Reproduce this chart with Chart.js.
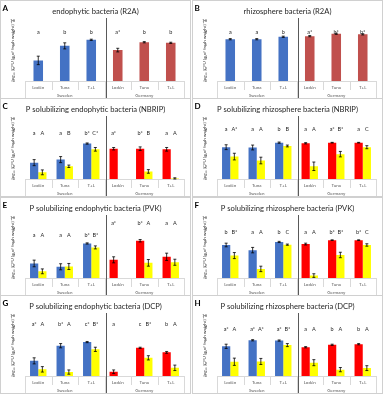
<!DOCTYPE html>
<html>
<head>
<meta charset="utf-8">
<script src="https://cdn.jsdelivr.net/npm/chart.js@4.4.1/dist/chart.umd.min.js"></script>
<style>
  body { margin: 0; width: 383px; height: 400px; background: #fff; position: relative; overflow: hidden; }
  canvas { position: absolute; }
</style>
</head>
<body>
<canvas id="cA" width="191" height="99" style="left:0;top:0"></canvas>
<canvas id="cB" width="191" height="99" style="left:192px;top:0"></canvas>
<canvas id="cC" width="191" height="99" style="left:0;top:98px"></canvas>
<canvas id="cD" width="191" height="99" style="left:192px;top:98px"></canvas>
<canvas id="cE" width="191" height="99" style="left:0;top:197px"></canvas>
<canvas id="cF" width="191" height="99" style="left:192px;top:197px"></canvas>
<canvas id="cG" width="191" height="99" style="left:0;top:295px"></canvas>
<canvas id="cH" width="191" height="99" style="left:192px;top:295px"></canvas>
<script>
const categories = ['Lodén', 'Tuna', 'T+L', 'Lodén', 'Tuna', 'T+L'];
const groups = ['Sweden', 'Germany'];

// A - endophytic bacteria (R2A)
const aMain = [3.4, 5.8, 6.8, 5.1, 6.4, 6.3];
const aMainErr = [0.7, 0.5, 0.1, 0.3, 0.1, 0.1];
const aMainLetters = ['a', 'b', 'b', 'a*', 'b', 'b'];

// B - rhizosphere bacteria (R2A)
const bMain = [6.9, 6.9, 7.3, 7.4, 7.8, 7.7];
const bMainErr = [0.1, 0.1, 0.1, 0.1, 0.1, 0.1];
const bMainLetters = ['a', 'a', 'b', 'a*', 'b*', 'b*'];

// C - P solubilizing endophytic bacteria (NBRIP)
const cMain = [2.7, 3.2, 5.85, 5.0, 5.0, 4.9];
const cMainErr = [0.5, 0.5, 0.1, 0.2, 0.3, 0.3];
const cYellow = [1.1, 2.1, 4.9, null, 1.25, 0.1];
const cYellowErr = [0.4, 0.2, 0.3, null, 0.3, 0.1];
const cMainLetters = ['a', 'a', 'b*', 'a*', 'b*', 'a'];
const cYellowLetters = ['A', 'B', 'C*', '', 'B', 'A'];

// D - P solubilizing rhizosphere bacteria (NBRIP)
const dMain = [5.25, 5.2, 6.0, 5.9, 6.0, 6.0];
const dMainErr = [0.4, 0.4, 0.1, 0.1, 0.05, 0.05];
const dYellow = [3.7, 3.05, 5.45, 2.1, 4.1, 5.25];
const dYellowErr = [0.55, 0.55, 0.15, 0.7, 0.45, 0.25];
const dMainLetters = ['a', 'a', 'b', 'a', 'a*', 'a'];
const dYellowLetters = ['A*', 'A', 'B', 'A', 'B*', 'C'];

// E - P solubilizing endophytic bacteria (PVK)
const eMain = [2.4, 1.85, 5.7, 3.0, 6.15, 3.5];
const eMainErr = [0.55, 0.5, 0.1, 0.5, 0.2, 0.6];
const eYellow = [1.1, 1.9, 5.05, null, 2.5, 2.6];
const eYellowErr = [0.4, 0.5, 0.25, null, 0.55, 0.5];
const eMainLetters = ['a', 'a', 'b*', 'a*', 'b*', 'a'];
const eYellowLetters = ['A', 'A', 'B*', '', 'A', 'A'];

// F - P solubilizing rhizosphere bacteria (PVK)
const fMain = [5.45, 4.6, 5.95, 5.6, 6.25, 6.25];
const fMainErr = [0.3, 0.45, 0.1, 0.15, 0.05, 0.05];
const fYellow = [3.7, 1.5, 5.5, 0.4, 3.8, 5.45];
const fYellowErr = [0.5, 0.45, 0.1, 0.3, 0.45, 0.2];
const fMainLetters = ['b', 'a', 'b', 'a', 'b*', 'b*'];
const fYellowLetters = ['B*', 'A', 'C', 'A', 'B*', 'C'];

// G - P solubilizing endophytic bacteria (DCP)
const gMain = [2.5, 5.0, 5.6, 0.7, 4.65, 3.9];
const gMainErr = [0.5, 0.35, 0.1, 0.3, 0.1, 0.15];
const gYellow = [1.1, 0.65, 4.4, null, 3.0, 1.35];
const gYellowErr = [0.45, 0.35, 0.35, null, 0.35, 0.45];
const gMainLetters = ['a*', 'b*', 'c*', 'a', 'c', 'b'];
const gYellowLetters = ['A', 'A', 'B*', '', 'B*', 'A'];

// H - P solubilizing rhizosphere bacteria (DCP)
const hMain = [4.9, 5.9, 5.85, 4.75, 5.15, 5.25];
const hMainErr = [0.35, 0.1, 0.1, 0.1, 0.1, 0.1];
const hYellow = [2.35, 2.4, 5.1, 2.2, 1.05, 1.3];
const hYellowErr = [0.6, 0.5, 0.25, 0.5, 0.35, 0.4];
const hMainLetters = ['a*', 'a*', 'a*', 'a', 'b', 'b'];
const hYellowLetters = ['A', 'A*', 'B*', 'A', 'A', 'A'];

const FONT = 'Lato, "DejaVu Sans", sans-serif';
const BLUE = '#4472c4';
const YELLOW = '#ffff00';

const panels = [
  { id: 'A', title: 'endophytic bacteria (R2A)', main: aMain, mainErr: aMainErr, mainLetters: aMainLetters, red: '#c0504d', letterLevel: [8.1, 8.1] },
  { id: 'B', title: 'rhizosphere bacteria (R2A)', main: bMain, mainErr: bMainErr, mainLetters: bMainLetters, red: '#c0504d', letterLevel: [8.1, 8.1] },
  { id: 'C', title: 'P solubilizing endophytic bacteria (NBRIP)', main: cMain, mainErr: cMainErr, mainLetters: cMainLetters, yellow: cYellow, yellowErr: cYellowErr, yellowLetters: cYellowLetters, red: '#ff0000', letterLevel: [7.5, 7.5] },
  { id: 'D', title: 'P solubilizing rhizosphere bacteria (NBRIP)', main: dMain, mainErr: dMainErr, mainLetters: dMainLetters, yellow: dYellow, yellowErr: dYellowErr, yellowLetters: dYellowLetters, red: '#ff0000', letterLevel: [8.25, 8.25] },
  { id: 'E', title: 'P solubilizing endophytic bacteria (PVK)', main: eMain, mainErr: eMainErr, mainLetters: eMainLetters, yellow: eYellow, yellowErr: eYellowErr, yellowLetters: eYellowLetters, red: '#ff0000', letterLevel: [7.1, 9.0] },
  { id: 'F', title: 'P solubilizing rhizosphere bacteria (PVK)', main: fMain, mainErr: fMainErr, mainLetters: fMainLetters, yellow: fYellow, yellowErr: fYellowErr, yellowLetters: fYellowLetters, red: '#ff0000', letterLevel: [7.5, 7.5] },
  { id: 'G', title: 'P solubilizing endophytic bacteria (DCP)', main: gMain, mainErr: gMainErr, mainLetters: gMainLetters, yellow: gYellow, yellowErr: gYellowErr, yellowLetters: gYellowLetters, red: '#ff0000', letterLevel: [8.6, 8.6] },
  { id: 'H', title: 'P solubilizing rhizosphere bacteria (DCP)', main: hMain, mainErr: hMainErr, mainLetters: hMainLetters, yellow: hYellow, yellowErr: hYellowErr, yellowLetters: hYellowLetters, red: '#ff0000', letterLevel: [7.65, 7.65] }
];

// error bars, letters, multi-level axis, divider, panel letter
const decor = {
  id: 'decor',
  afterDatasetsDraw(chart, args, opts) {
    const { ctx, scales: { y } } = chart;
    ctx.save();
    chart.data.datasets.forEach((ds, di) => {
      const meta = chart.getDatasetMeta(di);
      meta.data.forEach((bar, i) => {
        const v = ds.data[i];
        if (v == null) return;
        const e = ds.errors[i];
        if (e) {
          const yt = y.getPixelForValue(v + e);
          const yb = y.getPixelForValue(Math.max(0, v - e));
          ctx.strokeStyle = '#000';
          ctx.lineWidth = 0.8;
          ctx.beginPath();
          ctx.moveTo(bar.x, yt); ctx.lineTo(bar.x, yb);
          ctx.moveTo(bar.x - 1.5, yt); ctx.lineTo(bar.x + 1.5, yt);
          ctx.moveTo(bar.x - 1.5, yb); ctx.lineTo(bar.x + 1.5, yb);
          ctx.stroke();
        }
      });
      // significance letters
      ctx.fillStyle = '#262626';
      ctx.font = '5.5px ' + FONT;
      ctx.textAlign = 'center';
      ctx.textBaseline = 'middle';
      meta.data.forEach((bar, i) => {
        const t = ds.letters[i];
        if (!t) return;
        const lvl = opts.letterLevel[i < 3 ? 0 : 1];
        ctx.fillText(t, bar.x, y.getPixelForValue(lvl));
      });
    });
    ctx.restore();
  },
  afterDraw(chart, args, opts) {
    const { ctx, chartArea } = chart;
    const w = (chartArea.right - chartArea.left) / categories.length;
    const y0 = chartArea.bottom;
    ctx.save();
    ctx.strokeStyle = '#d9d9d9';
    ctx.lineWidth = 1;
    for (let i = 0; i <= categories.length; i++) {
      const bx = Math.round(chartArea.left + i * w) + 0.5;
      ctx.beginPath();
      ctx.moveTo(bx, y0);
      ctx.lineTo(bx, y0 + (i % 3 === 0 ? 18 : 9));
      ctx.stroke();
    }
    ctx.fillStyle = '#595959';
    ctx.font = '4.5px ' + FONT;
    ctx.textAlign = 'center';
    ctx.textBaseline = 'middle';
    groups.forEach((g, gi) => {
      ctx.fillText(g, chartArea.left + (gi * 3 + 1.5) * w, y0 + 14.5);
    });
    // divider between countries
    const dx = Math.round(chartArea.left + 3 * w) + 1.5;
    ctx.strokeStyle = '#595959';
    ctx.beginPath();
    ctx.moveTo(dx, 18);
    ctx.lineTo(dx, chart.height);
    ctx.stroke();
    // panel border
    ctx.strokeStyle = '#d0d0d0';
    ctx.strokeRect(0.5, 0.5, chart.width - 1, chart.height - 1);
    // panel letter
    ctx.fillStyle = '#000';
    ctx.font = 'bold 8px ' + FONT;
    ctx.textAlign = 'left';
    ctx.fillText(opts.label, 2.5, 8);
    ctx.restore();
  }
};

function makePanel(p) {
  const colors = [BLUE, BLUE, BLUE, p.red, p.red, p.red];
  const two = !!p.yellow;
  const datasets = [{
    data: p.main,
    errors: p.mainErr,
    letters: p.mainLetters,
    backgroundColor: colors,
    categoryPercentage: two ? 0.62 : 0.4,
    barPercentage: two ? 1 : 0.9
  }];
  if (two) {
    datasets.push({
      data: p.yellow,
      errors: p.yellowErr,
      letters: p.yellowLetters,
      backgroundColor: YELLOW,
      categoryPercentage: 0.62,
      barPercentage: 1
    });
  }
  new Chart(document.getElementById('c' + p.id), {
    type: 'bar',
    data: { labels: categories, datasets: datasets },
    options: {
      responsive: false,
      animation: false,
      layout: { padding: { top: 2.1, right: 0, left: 0, bottom: 0 } },
      plugins: {
        legend: { display: false },
        tooltip: { enabled: false },
        title: {
          display: true,
          text: p.title,
          color: '#262626',
          font: { size: 7.6, family: FONT, weight: 'normal' },
          padding: { top: 4.6, bottom: 4.6 }
        },
        decor: { label: p.id, letterLevel: p.letterLevel }
      },
      scales: {
        x: {
          afterFit: (s) => { s.height = 18; },
          grid: { drawOnChartArea: false, drawTicks: false },
          border: { display: true, color: '#d9d9d9' },
          ticks: { color: '#595959', font: { size: 4.5, family: FONT }, padding: 4, maxRotation: 0, autoSkip: false }
        },
        y: {
          min: 0,
          max: 10,
          afterFit: (s) => { s.width = 25; },
          grid: { display: false },
          border: { display: false },
          ticks: { stepSize: 1, color: '#595959', font: { size: 4, family: FONT }, padding: 2 },
          title: {
            display: true,
            text: 'log₁₀ [CFU (g of fresh weight)⁻¹]',
            color: '#404040',
            font: { size: 4.5, family: FONT },
            padding: { top: 10, bottom: 0 }
          }
        },
        yr: {
          position: 'right',
          min: 0,
          max: 10,
          afterFit: (s) => { s.width = 7; },
          grid: { display: false },
          border: { display: false },
          ticks: { display: false }
        }
      }
    },
    plugins: [decor]
  });
}

panels.forEach(makePanel);
</script>
</body>
</html>
